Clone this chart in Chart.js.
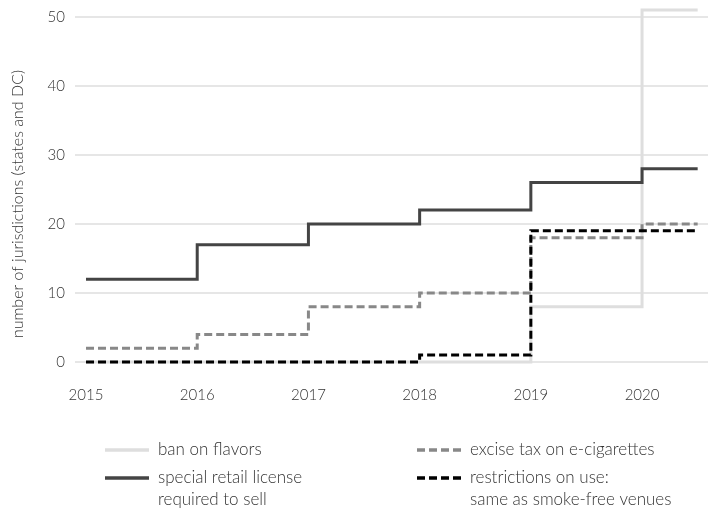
<!DOCTYPE html>
<html>
<head>
<meta charset="utf-8">
<script src="https://cdn.jsdelivr.net/npm/chart.js@4"></script>
<style>
  html, body { margin: 0; padding: 0; background: #fff; }
  #wrap { width: 708px; height: 510px; position: relative; }
</style>
</head>
<body>
<div id="wrap"><canvas id="c" width="708" height="510"></canvas></div>
<script>
// ---- data ----
const years = [2015, 2016, 2017, 2018, 2019, 2020, 2020.5];
const xTickYears = [2015, 2016, 2017, 2018, 2019, 2020];
const yTickValues = [0, 10, 20, 30, 40, 50];
const banOnFlavors = [0, 0, 0, 0, 8, 51, 51];
const exciseTax = [2, 4, 8, 10, 18, 20, 20];
const retailLicense = [12, 17, 20, 22, 26, 28, 28];
const useRestrictions = [0, 0, 0, 1, 19, 19, 19];
const seriesLabels = [
  ['ban on flavors'],
  ['special retail license', 'required to sell'],
  ['excise tax on e-cigarettes'],
  ['restrictions on use:', 'same as smoke-free venues']
];
const yAxisTitle = 'number of jurisdictions (states and DC)';

const FONT = 'Lato, "Open Sans", sans-serif';
const WEIGHT = '300';
const TEXT = '#333333';

function pts(vals) { return years.map((y, i) => ({ x: y, y: vals[i] })); }

const datasets = [
  { label: seriesLabels[0].join(' '), data: pts(banOnFlavors), borderColor: '#dedede', borderDash: [], order: 4, legendLines: seriesLabels[0] },
  { label: seriesLabels[2].join(' '), data: pts(exciseTax), borderColor: '#888888', borderDash: [8, 4], order: 3, legendLines: seriesLabels[2] },
  { label: seriesLabels[1].join(' '), data: pts(retailLicense), borderColor: '#444444', borderDash: [], order: 2, legendLines: seriesLabels[1] },
  { label: seriesLabels[3].join(' '), data: pts(useRestrictions), borderColor: '#000000', borderDash: [8, 4], order: 1, legendLines: seriesLabels[3] }
].map(d => Object.assign(d, { stepped: 'before', borderWidth: 3, pointRadius: 0, fill: false, clip: false, borderCapStyle: 'butt', borderJoinStyle: 'miter' }));

const legendPlugin = {
  id: 'customLegend',
  afterDraw(chart) {
    const ctx = chart.ctx;
    const ds = chart.data.datasets;
    const layout = [
      { idx: 0, x: 105, tx: 158, y: 450 },
      { idx: 2, x: 105, tx: 158, y: 478 },
      { idx: 1, x: 417, tx: 470, y: 450 },
      { idx: 3, x: 417, tx: 470, y: 478 }
    ];
    ctx.save();
    layout.forEach(item => {
      const d = ds[item.idx];
      ctx.beginPath();
      ctx.strokeStyle = d.borderColor;
      ctx.lineWidth = 3.5;
      ctx.setLineDash(d.borderDash.length ? [8, 4] : []);
      ctx.moveTo(item.x, item.y);
      ctx.lineTo(item.x + 44, item.y);
      ctx.stroke();
      ctx.setLineDash([]);
      ctx.fillStyle = TEXT;
      ctx.font = WEIGHT + ' 17px ' + FONT;
      ctx.textBaseline = 'middle';
      ctx.textAlign = 'left';
      d.legendLines.forEach((t, i) => ctx.fillText(t, item.tx, item.y + i * 22));
    });
    ctx.translate(18, 204);
    ctx.rotate(-Math.PI / 2);
    ctx.textAlign = 'center';
    ctx.textBaseline = 'middle';
    ctx.font = WEIGHT + ' 16px ' + FONT;
    ctx.fillStyle = TEXT;
    ctx.fillText(yAxisTitle, 0, 0);
    ctx.restore();
  }
};

new Chart(document.getElementById('c'), {
  type: 'line',
  data: { datasets },
  plugins: [legendPlugin],
  options: {
    responsive: false,
    animation: false,
    layout: { padding: { top: 3, right: 0, bottom: 0, left: 0 } },
    plugins: { legend: { display: false }, tooltip: { enabled: false } },
    scales: {
      x: {
        type: 'linear',
        min: 2014.901,
        max: 2020.593,
        grid: { display: false, drawTicks: false },
        border: { display: false },
        afterBuildTicks: (s) => { s.ticks = xTickYears.map(v => ({ value: v })); },
        afterFit: (s) => { s.height = 148; s.paddingLeft = 0; s.paddingRight = 0; },
        ticks: {
          padding: 24,
          maxRotation: 0,
          autoSkip: false,
          color: TEXT,
          font: { family: FONT, size: 15, weight: WEIGHT },
          callback: (v) => String(v)
        }
      },
      y: {
        min: 0,
        max: 52,
        grid: { color: '#e6e6e6', lineWidth: 2, drawTicks: false },
        border: { display: false },
        afterBuildTicks: (s) => { s.ticks = yTickValues.map(v => ({ value: v })); },
        afterFit: (s) => { s.width = 75; s.paddingTop = 0; s.paddingBottom = 0; },
        ticks: {
          padding: 10,
          autoSkip: false,
          color: TEXT,
          font: { family: FONT, size: 15, weight: WEIGHT }
        }
      }
    }
  }
});
</script>
</body>
</html>
